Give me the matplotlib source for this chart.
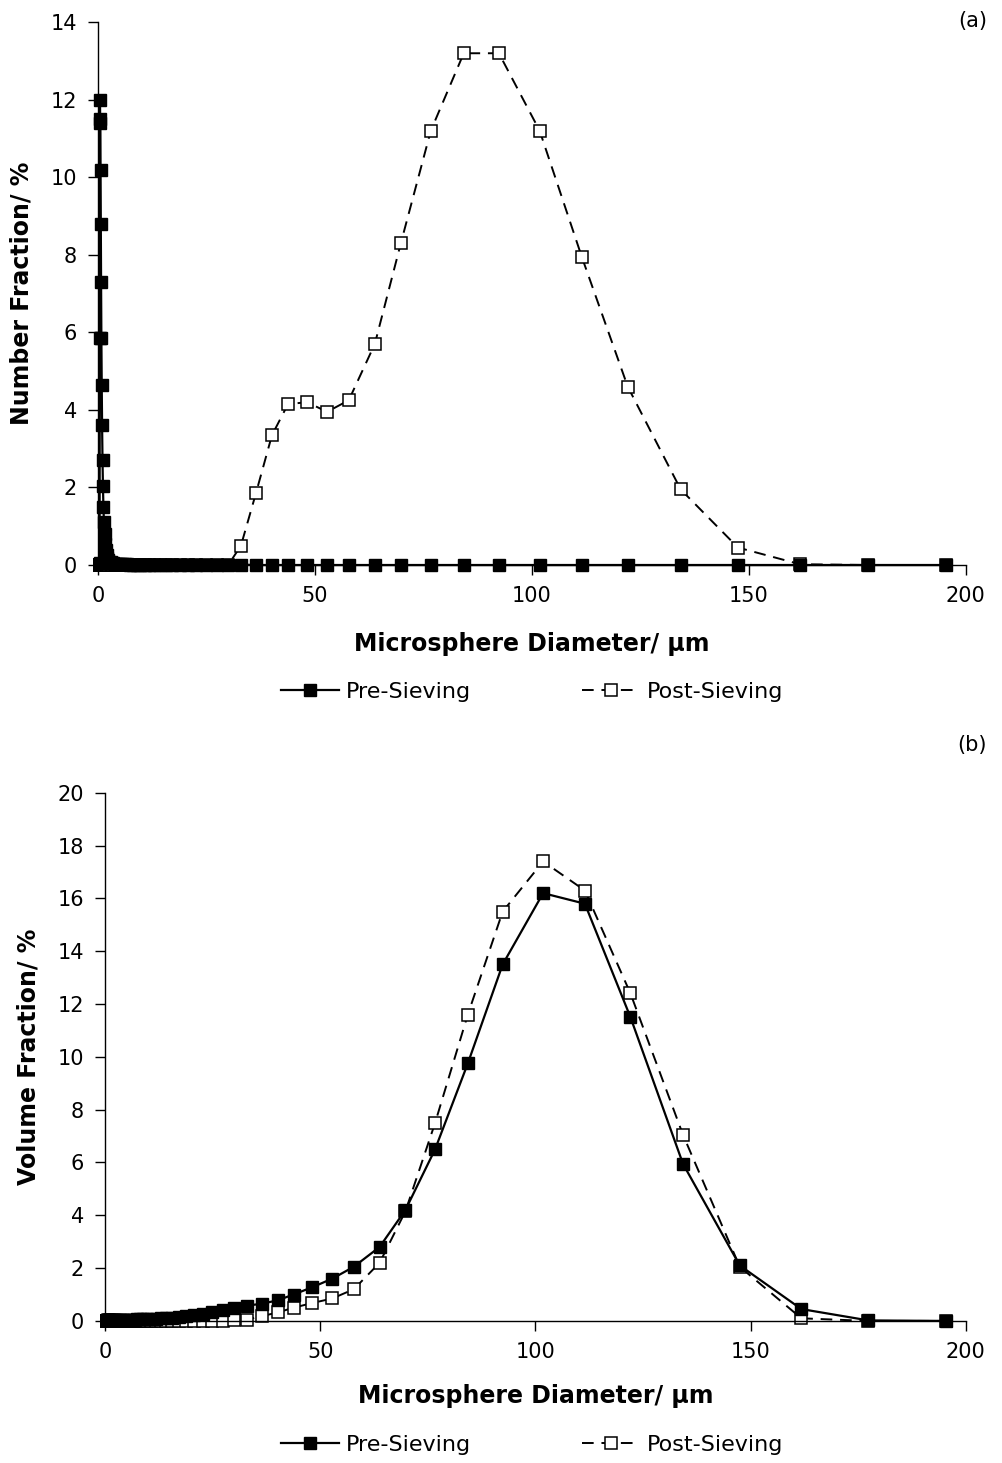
import numpy as np
import matplotlib.pyplot as plt

# size bins (µm)
diameter = [0.37, 0.41, 0.45, 0.49, 0.54, 0.59, 0.65, 0.71, 0.78, 0.86,
            0.945, 1.04, 1.14, 1.25, 1.37, 1.51, 1.65, 1.82, 1.99, 2.19,
            2.40, 2.64, 2.90, 3.18, 3.49, 3.84, 4.21, 4.63, 5.08, 5.58,
            6.12, 6.72, 7.38, 8.11, 8.90, 9.77, 10.73, 11.78, 12.94, 14.21,
            15.60, 17.13, 18.81, 20.65, 22.67, 24.89, 27.33, 30.01, 32.95, 36.4,
            40.1, 43.8, 48.2, 52.8, 57.8, 63.8, 69.8, 76.7, 84.3, 92.4,
            101.8, 111.5, 122.1, 134.3, 147.5, 161.8, 177.4, 195.4]

# (a) number fraction, %
number_pre = [0.05, 5.85, 12.0, 11.5, 11.4, 10.2, 8.8, 7.3, 5.85, 4.65,
              3.6, 2.7, 2.05, 1.5, 1.1, 0.8, 0.55, 0.38, 0.26, 0.18,
              0.13, 0.09, 0.07, 0.05, 0.04, 0.03, 0.03, 0.02, 0.02, 0.02,
              0.02, 0.02, 0.01, 0.01, 0.01, 0.01, 0.01, 0.01, 0.01, 0.01,
              0.01, 0.01, 0.01, 0.01, 0.01, 0.01, 0.01, 0.01, 0.01, 0.0,
              0.0, 0.0, 0.0, 0.0, 0.0, 0.0, 0.0, 0.0, 0.0, 0.0,
              0.0, 0.0, 0.0, 0.0, 0.0, 0.0, 0.0, 0.0]
number_post = [0.0] * 48 + [0.5, 1.85, 3.35, 4.15, 4.2, 3.95, 4.25, 5.7, 8.3, 11.2,
                            13.2, 13.2, 11.2, 7.95, 4.6, 1.95, 0.45, 0.02, 0.0, 0.0]

# (b) volume fraction, %
volume_pre = [0.02, 0.02, 0.02, 0.02, 0.02, 0.02, 0.02, 0.02, 0.02, 0.02,
              0.02, 0.02, 0.02, 0.02, 0.02, 0.02, 0.02, 0.02, 0.02, 0.02,
              0.02, 0.02, 0.02, 0.03, 0.03, 0.03, 0.03, 0.04, 0.04, 0.04,
              0.05, 0.05, 0.06, 0.06, 0.07, 0.07, 0.08, 0.09, 0.10, 0.11,
              0.13, 0.16, 0.20, 0.23, 0.27, 0.32, 0.40, 0.50, 0.58, 0.65,
              0.78, 1.0, 1.28, 1.6, 2.05, 2.8, 4.2, 6.5, 9.75, 13.5,
              16.2, 15.8, 11.5, 5.95, 2.1, 0.45, 0.02, 0.0]
volume_post = [0.0] * 47 + [0.02, 0.05, 0.18, 0.32, 0.5, 0.68, 0.85, 1.2, 2.2, 4.15, 7.5,
                            11.6, 15.5, 17.4, 16.3, 12.4, 7.05, 2.05, 0.1, 0.0, 0.0]

x_ticks = [0, 50, 100, 150, 200]

plt.rcParams['font.family'] = ['DejaVu Sans']

fig = plt.figure(figsize=(10.02, 14.63), dpi=100)
ax_a = fig.add_axes([0.0978, 0.6138, 0.866, 0.371])
ax_b = fig.add_axes([0.1048, 0.0971, 0.859, 0.361])

# axes, series, y max, y label, tag, tag height, legend centre, xlabel pad
panels = [
    (ax_a, number_pre, number_post, 14, "Number Fraction/ %", "(a)", 1.003, 0.527, 19),
    (ax_b, volume_pre, volume_post, 20, "Volume Fraction/ %", "(b)", 1.091, 0.0123, 16),
]

for ax, pre, post, ymax, ylabel, tag, tag_y, leg_y, xpad in panels:
    ax.plot(diameter, pre, color='black', lw=1.6, marker='s', ms=8.5,
            mfc='black', mec='black', label='Pre-Sieving', clip_on=False, zorder=3)
    ax.plot(diameter, post, color='black', lw=1.4, ls=(0, (6, 4)), marker='s', ms=8.5,
            mfc='white', mec='black', mew=1.1, label='Post-Sieving', clip_on=False, zorder=2)
    ax.set_xlim(0, 200)
    ax.set_ylim(0, ymax)
    ax.set_xticks(x_ticks)
    ax.set_yticks(np.arange(0, ymax + 1, 2))
    for s in ['top', 'right']:
        ax.spines[s].set_visible(False)
    for s in ['left', 'bottom']:
        ax.spines[s].set_linewidth(1.0)
    ax.tick_params(labelsize=15, length=7, width=1.0, pad=8)
    ax.set_xlabel("Microsphere Diameter/ µm", fontsize=17, fontweight='bold', labelpad=xpad)
    ax.set_ylabel(ylabel, fontsize=17, fontweight='bold', labelpad=12)
    ax.text(1.025, tag_y, tag, transform=ax.transAxes, ha='right', va='center', fontsize=15)
    ax.legend(loc='center', bbox_to_anchor=(0.531, leg_y), bbox_transform=fig.transFigure,
              ncol=2, frameon=False, fontsize=16, handlelength=2.6, columnspacing=5,
              handletextpad=0.3)

fig.savefig("out.png", dpi=100)
